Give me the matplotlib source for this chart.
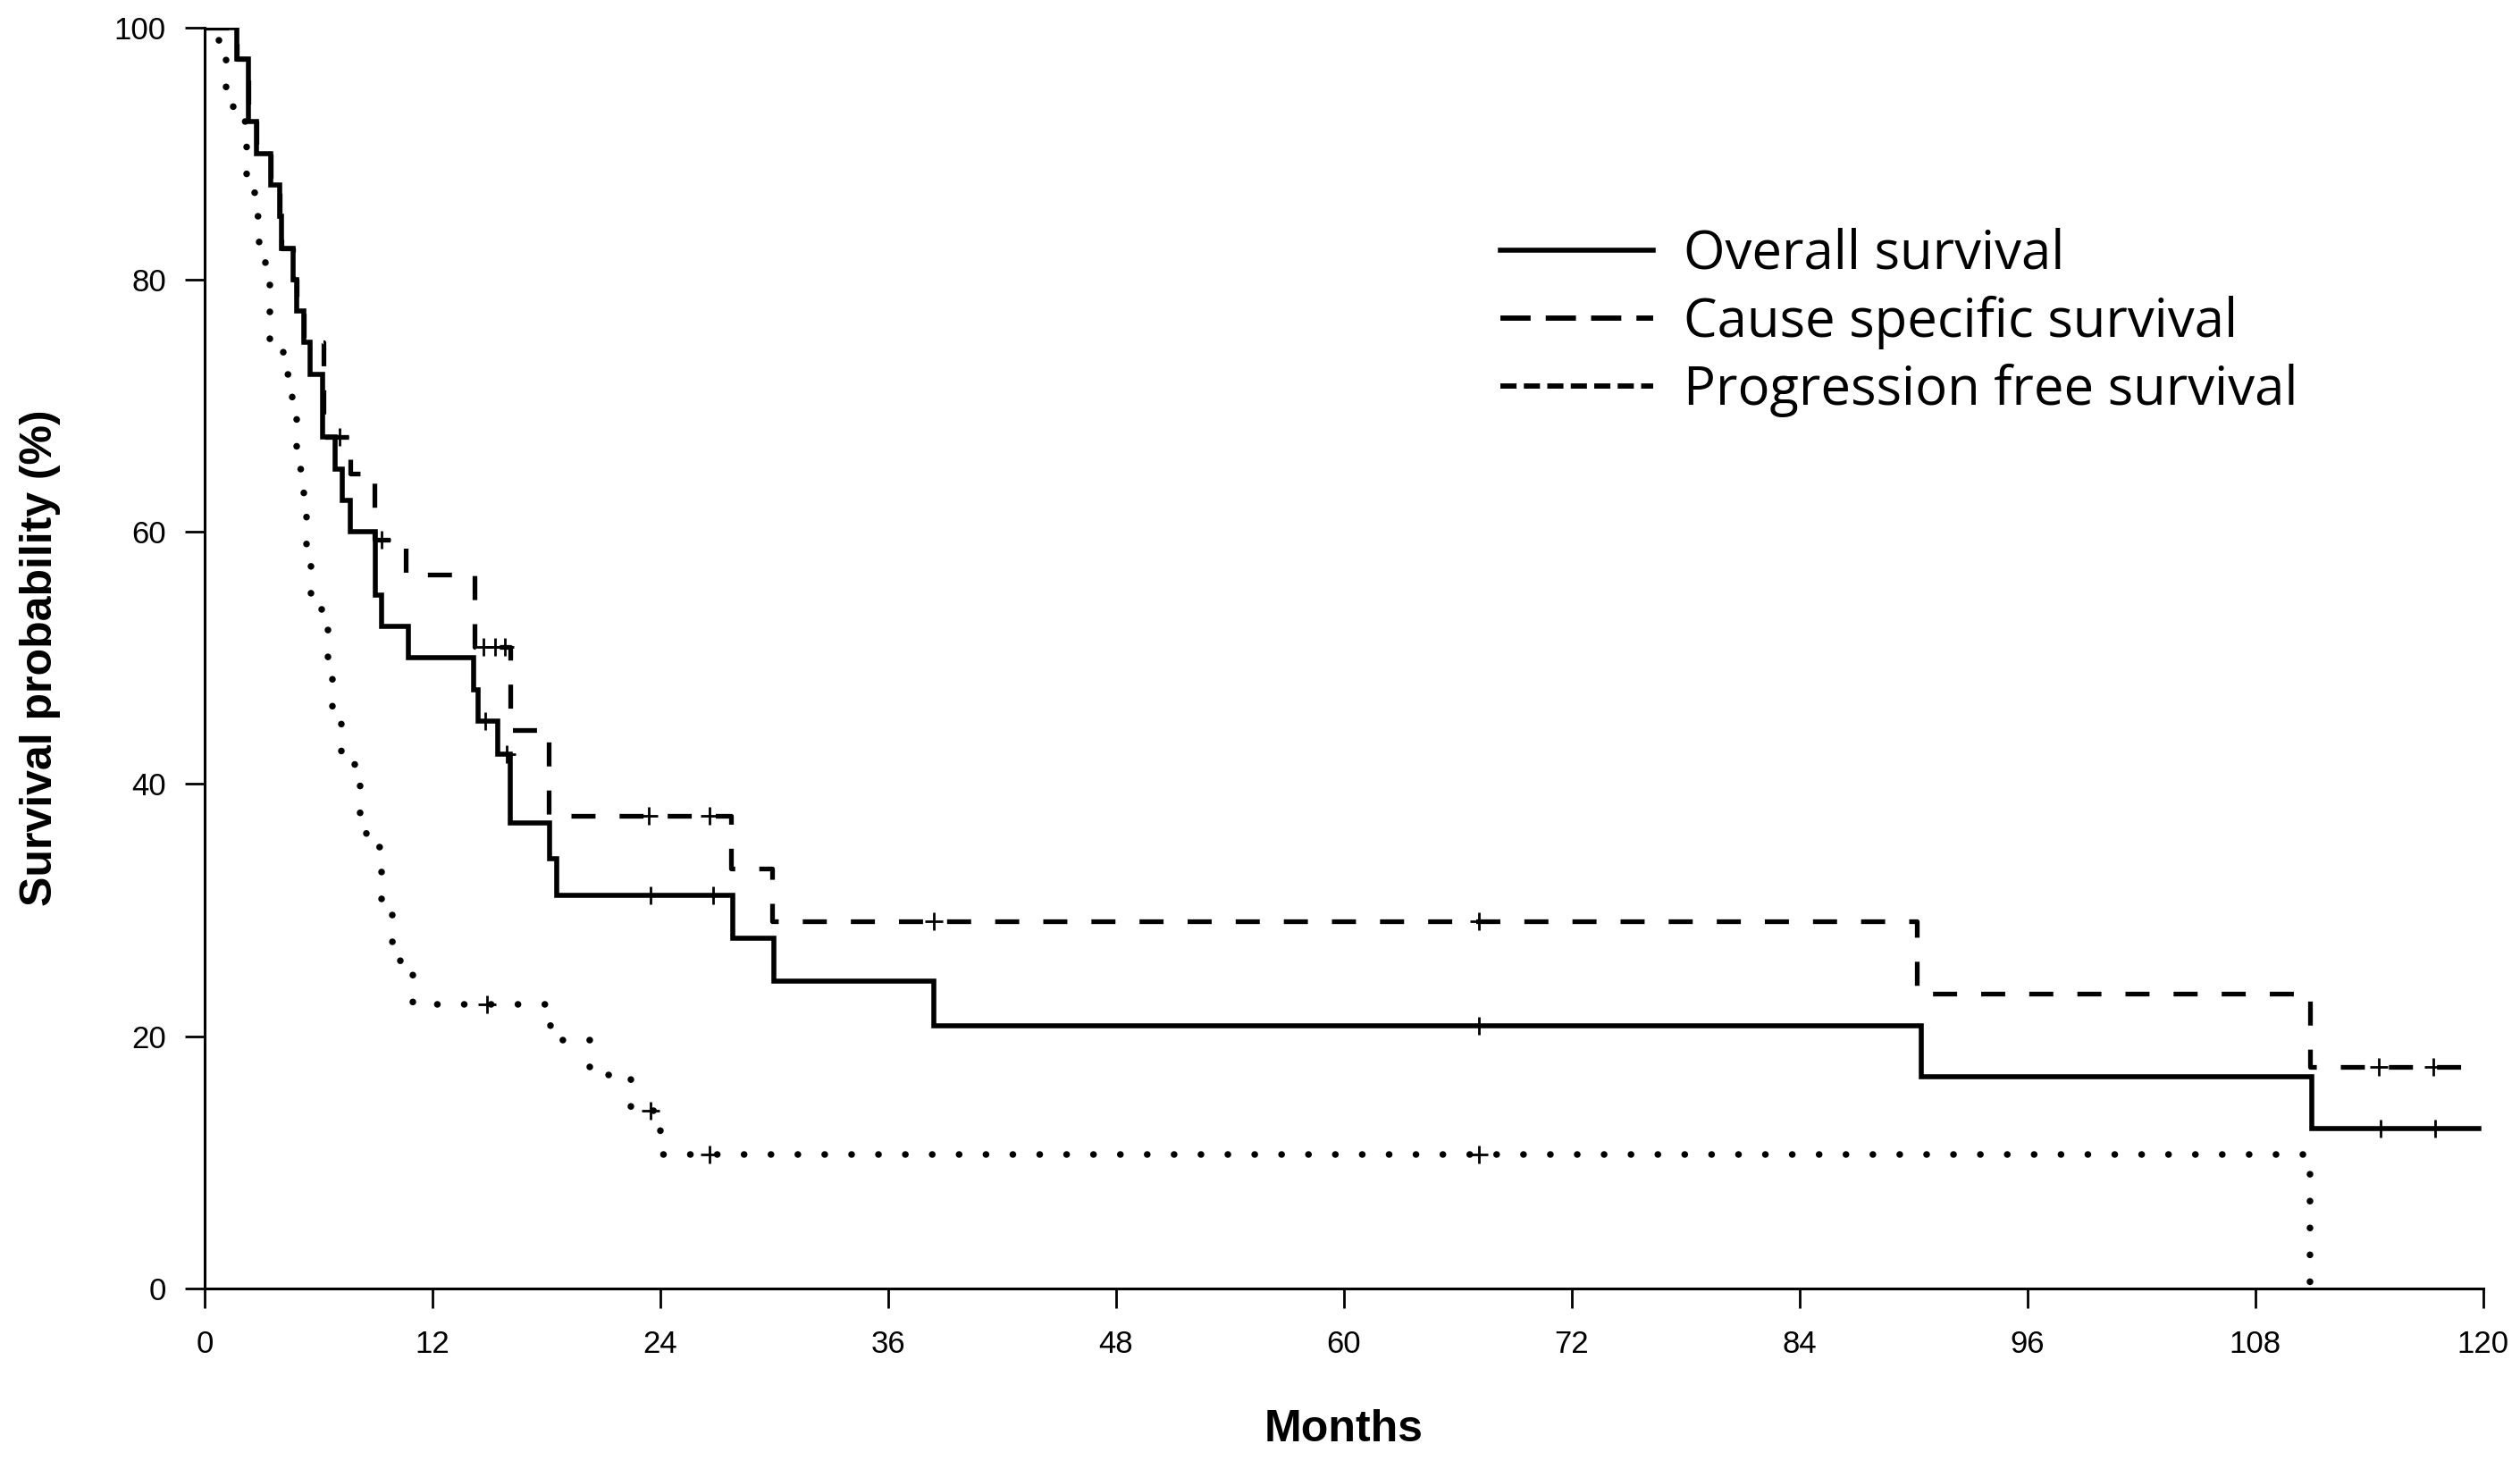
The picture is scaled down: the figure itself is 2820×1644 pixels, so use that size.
import numpy as np
import matplotlib
matplotlib.use("Agg")
import matplotlib.pyplot as plt
from matplotlib import font_manager
from matplotlib.lines import Line2D

# Kaplan-Meier step data (months, survival %)
os_t = [0, 1.69, 2.32, 2.71, 3.5, 3.97, 4.04, 4.67, 4.83, 5.22, 5.54, 6.2, 6.87,
        7.26, 7.65, 9.0, 9.3, 10.71, 14.16, 14.4, 15.42, 16.1, 18.16, 18.56,
        27.81, 30.0, 38.4, 90.4, 111.0, 119.8]
os_s = [100, 97.5, 92.5, 90, 87.5, 85, 82.5, 80, 77.5, 75, 72.5, 67.5, 65,
        62.5, 60, 55, 52.5, 50, 47.5, 45, 42.4, 36.9, 34.1, 31.2,
        27.8, 24.4, 20.8, 16.8, 12.7, 12.7]
os_cens = [14.8, 15.9, 23.47, 26.76, 67.1, 114.6, 117.5]

css_t = [0, 1.69, 2.32, 2.71, 3.5, 3.97, 4.04, 4.67, 4.83, 5.22, 6.27, 7.65,
         8.96, 10.6, 14.2, 16.1, 18.1, 27.7, 29.9, 90.2, 110.9, 119.8]
css_s = [100, 97.5, 92.5, 90, 87.5, 85, 82.5, 80, 77.5, 75, 67.5, 64.6,
         59.4, 56.6, 50.9, 44.3, 37.5, 33.3, 29.1, 23.4, 17.6, 17.6]
css_cens = [7.1, 9.3, 14.7, 15.3, 15.8, 23.4, 26.6, 38.4, 67.1, 114.5, 117.4]

pfs_t = [0, 0.75, 1.14, 1.5, 2.21, 2.64, 2.87, 3.18, 3.42, 4.13, 4.6, 4.83,
         5.22, 5.38, 5.6, 6.16, 6.5, 6.71, 7.2, 7.9, 8.2, 8.5, 9.3, 9.9, 10.3,
         10.95, 18.2, 20.3, 22.46, 24.0, 110.9]
pfs_s = [100, 97.5, 95, 92.5, 87.5, 85, 82.5, 80, 75, 72.5, 70, 65,
         62.5, 57.5, 55, 52.5, 50, 45, 42.5, 40, 37.5, 35, 30, 27.5, 25,
         22.5, 19.7, 16.9, 14.1, 10.6, 0]
pfs_cens = [14.87, 23.47, 26.6, 67.1]

labels = ["Overall survival", "Cause specific survival", "Progression free survival"]
x_ticks = [0, 12, 24, 36, 48, 60, 72, 84, 96, 108, 120]
y_ticks = [0, 20, 40, 60, 80, 100]

names = {f.name for f in font_manager.fontManager.ttflist}
tick_font = "Liberation Sans Narrow" if "Liberation Sans Narrow" in names else "Liberation Sans"


def value_at(t, s, times):
    # survival value of a step curve at the censoring times
    t = np.asarray(t)
    s = np.asarray(s)
    idx = np.searchsorted(t, times, side="right") - 1
    return s[idx]


fig = plt.figure(figsize=(28.2, 16.44), dpi=100)
ax = fig.add_axes([0.0812, 0.1229, 0.9041, 0.8585])

ax.step(os_t, os_s, where="post", color="black", lw=4.0, solid_joinstyle="miter")
ax.step(css_t, css_s, where="post", color="black", lw=3.8, dashes=(5.1, 5.1))
ax.step(pfs_t, pfs_s, where="post", color="black", lw=5.4, dashes=(0.01, 4.0),
        dash_capstyle="round")

for t, s, c in [(os_t, os_s, os_cens), (css_t, css_s, css_cens), (pfs_t, pfs_s, pfs_cens)]:
    ax.plot(c, value_at(t, s, c), "+", color="black", ms=15, mew=2.0, linestyle="none")

ax.set_xlim(0, 120)
ax.set_ylim(0, 100)
ax.set_xticks(x_ticks)
ax.set_yticks(y_ticks)
ax.spines["top"].set_visible(False)
ax.spines["right"].set_visible(False)
for sp in ["left", "bottom"]:
    ax.spines[sp].set_linewidth(2.2)
ax.tick_params(axis="both", direction="out", length=16, width=2.0,
               labelsize=25, pad=15)
ax.tick_params(axis="x", pad=17)
for lab in ax.get_xticklabels() + ax.get_yticklabels():
    lab.set_family(tick_font)

ax.set_xlabel("Months", fontsize=36, fontweight="bold", family="Liberation Sans")
ax.set_ylabel("Survival probability (%)", fontsize=36, fontweight="bold",
              family="Liberation Sans")
ax.xaxis.set_label_coords(0.5, -0.096)
ax.yaxis.set_label_coords(-0.063, 0.5)

handles = [
    Line2D([], [], color="black", lw=4.0),
    Line2D([], [], color="black", lw=4.2, dashes=(5.8, 2.9)),
    Line2D([], [], color="black", lw=4.2, dashes=(3.1, 1.4)),
]
leg = ax.legend(handles, labels, loc="upper left", bbox_to_anchor=(0.5953, 0.845),
                bbox_transform=fig.transFigure, frameon=False, borderpad=0,
                borderaxespad=0, handlelength=2.87, handletextpad=0.56,
                labelspacing=0.27, prop={"family": "Open Sans", "size": 43})

fig.savefig("out.png", dpi=100, facecolor="white")
